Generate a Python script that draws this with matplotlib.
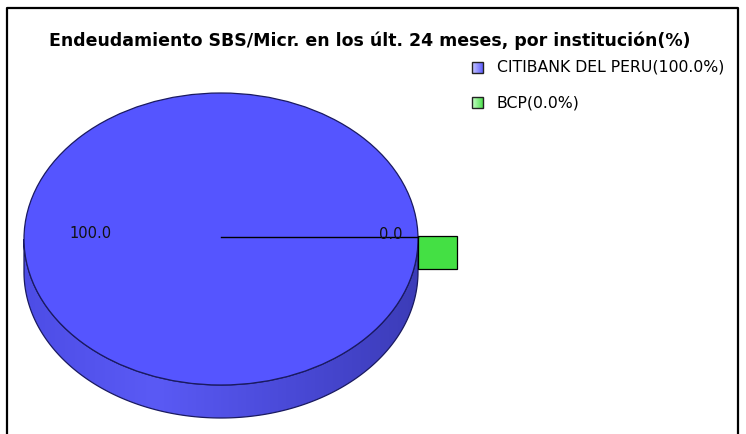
'''
Endeudamiento SBS/Micr. pie chart (3D look) with legend
'''

import numpy as np
import matplotlib.pyplot as plt
from matplotlib.patches import Ellipse, Polygon, Rectangle
from matplotlib.colors import LinearSegmentedColormap

# data
labels  = [ 'CITIBANK DEL PERU', 'BCP' ]
values  = [ 100.0, 0.0 ]
colors  = [ '#5555FF', '#44E044' ]
title   = 'Endeudamiento SBS/Micr. en los últ. 24 meses, por institución(%)'

plt.rcParams[ 'font.family' ] = [ 'DejaVu Sans' ]

W, H = 746, 434
fig = plt.figure( figsize = ( W / 100, H / 100 ), dpi = 100 )
ax  = fig.add_axes( [ 0, 0, 1, 1 ] )
ax.set_xlim( 0, W )
ax.set_ylim( H, 0 )
ax.axis( 'off' )

# frame (open at the bottom)
ax.plot( [ 7, 7, 738, 738 ], [ H + 5, 8, 8, H + 5 ], color = 'black', lw = 1.6 )

# pie geometry in pixels
cx, cy, rx, ry, depth = 221, 239, 197, 146, 33

shares = np.array( values ) / sum( values )
ends   = np.cumsum( shares ) * 360.0
starts = ends - shares * 360.0

def pt( ang, r = 1.0, dy = 0.0 ):
    a = np.radians( ang )
    return cx + r * rx * np.cos( a ), cy - r * ry * np.sin( a ) + dy

# side wall (front half) with gradient
t     = np.linspace( 180, 360, 200 )
upper = np.column_stack( pt( t ) )
lower = np.column_stack( pt( t[ ::-1 ], dy = depth ) )
side  = Polygon( np.vstack( [ upper, lower ] ), closed = True,
                 facecolor = 'none', edgecolor = '#1a1a60', lw = 0.9, zorder = 2 )
ax.add_patch( side )
cmap = LinearSegmentedColormap.from_list( 'side', [ '#4d4de6', '#5a5af5', '#4a4ad8', '#3c3cb8' ] )
grad = ax.imshow( np.linspace( 0, 1, 256 ).reshape( 1, -1 ), cmap = cmap,
                  extent = [ cx - rx, cx + rx, cy + depth + ry, cy - 5 ],
                  aspect = 'auto', zorder = 1 )
grad.set_clip_path( side )

# top face
ax.add_patch( Ellipse( ( cx, cy ), 2 * rx, 2 * ry, facecolor = colors[ 0 ],
                       edgecolor = '#1a1a60', lw = 0.9, zorder = 3 ) )

# zero-width slice: cut face drawn outside the rim
for s, e, v, c in zip( starts, ends, values, colors ):
    if v == 0:
        x0, y0 = pt( s )
        ax.add_patch( Rectangle( ( x0, y0 - 3 ), 39, depth, facecolor = c,
                                 edgecolor = 'black', lw = 0.9, zorder = 4 ) )
        ax.plot( [ cx, x0 ], [ cy - 2, y0 - 2 ], color = 'black', lw = 1.0, zorder = 5 )

# value labels
label_r = [ 0.66, 0.86 ]
for s, e, v, r in zip( starts, ends, values, label_r ):
    mid = 180.0 if v > 0 else s
    x, y = pt( mid, r )
    ax.text( x, y - 5, '{:.1f}'.format( v ), ha = 'center', va = 'center',
             fontsize = 10.5, color = '#111111', zorder = 6 )

# title
ax.text( 370, 41, title, ha = 'center', va = 'center', fontsize = 12.5,
         fontweight = 'bold', zorder = 6 )

# legend
swatch = [ ( '#c8c8ff', '#6060ff' ), ( '#c8ffc8', '#50e050' ) ]
for i, ( lab, v ) in enumerate( zip( labels, values ) ):
    y = 67.5 + i * 35
    sw = LinearSegmentedColormap.from_list( 'sw', swatch[ i ] )
    ax.imshow( np.linspace( 0, 1, 32 ).reshape( 1, -1 ), cmap = sw,
               extent = [ 472, 483, y + 5.5, y - 5.5 ], aspect = 'auto', zorder = 6 )
    ax.add_patch( Rectangle( ( 472, y - 5.5 ), 11, 11, facecolor = 'none',
                             edgecolor = '#222222', lw = 1.0, zorder = 7 ) )
    ax.text( 497, y, '{}({:.1f}%)'.format( lab, v ), ha = 'left', va = 'center',
             fontsize = 11.3, zorder = 7 )

ax.set_xlim( 0, W )
ax.set_ylim( H, 0 )
fig.savefig( 'out.png', dpi = 100 )
